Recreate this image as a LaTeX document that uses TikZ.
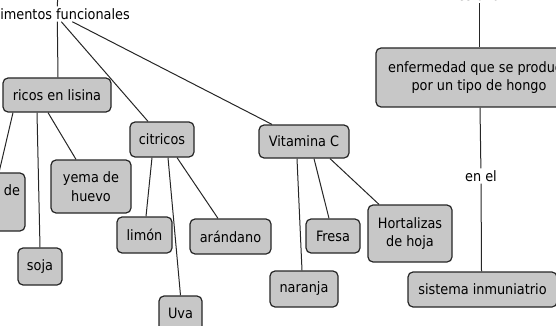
\documentclass[tikz,border=0pt]{standalone}
\usepackage{fontspec}
\setmainfont[FakeStretch=0.9]{DejaVu Sans}
\usepackage{tikz}
\usetikzlibrary{calc}

\tikzset{
  concepto/.style={draw=black!85, line width=1.2pt, fill=black!22, rounded corners=5pt,
                   inner sep=4pt, align=center, font=\fontsize{14.3}{18.5}\selectfont},
  frase/.style={inner sep=2pt, align=center, font=\fontsize{14.3}{18.5}\selectfont},
  enlace/.style={draw=black!85, line width=1pt}
}

\begin{document}
\begin{tikzpicture}[x=1pt,y=-1pt]%,cap=round,>=latex]

                                \useasboundingbox (0,0) rectangle (556,326);
                                \clip (0,0) rectangle (556,326);

                                % frases de enlace
                                \node[frase, anchor=east] (alim) at (132,14) {alimentos funcionales};
                                \node[frase] (esuna) at (479,-3) {es una};
                                \node[frase] (enel) at (481,176) {en el};
                                \coordinate (arriba) at (58,-10);

                                % conceptos
                                \node[concepto, minimum width=108, minimum height=34] (ricos) at (57,95) {ricos en lisina};
                                \node[concepto, minimum width=64, minimum height=35] (citricos) at (162,139.5) {citricos};
                                \node[concepto, minimum width=90, minimum height=33] (vitc) at (304,141.5) {Vitamina C};
                                \node[concepto, minimum width=80, minimum height=58, text width=70, align=right] (leche) at (-15,202) {de\\\strut};
                                \node[concepto, minimum width=80, minimum height=53] (yema) at (91,186.5) {yema de\\huevo};
                                \node[concepto, minimum width=44, minimum height=37] (soja) at (40,266.5) {soja};
                                \node[concepto, minimum width=55, minimum height=36] (limon) at (144.5,235) {limón};
                                \node[concepto, minimum width=81, minimum height=35] (arandano) at (230.5,236.5) {arándano};
                                \node[concepto, minimum width=43, minimum height=35] (uva) at (180.5,313.5) {Uva};
                                \node[concepto, minimum width=54, minimum height=34] (fresa) at (333,236) {Fresa};
                                \node[concepto, minimum width=84, minimum height=57] (hortalizas) at (410,233.5) {Hortalizas\\de hoja};
                                \node[concepto, minimum width=68, minimum height=36] (naranja) at (304,289) {naranja};
                                \node[concepto, minimum width=149, minimum height=35] (sistema) at (482.5,289.5) {sistema inmuniatrio};
                                \node[concepto, minimum width=206, minimum height=59] (enfermedad) at (479,77.5) {enfermedad que se produce\\por un tipo de hongo};

                                % enlaces
                                \draw[enlace] (arriba) -- ([xshift=-2]alim.north);
                                \draw[enlace] ([xshift=-2]alim.south) -- ([xshift=1]ricos.north);
                                \draw[enlace] ([xshift=2]alim.south) -- ([xshift=-14]citricos.north);
                                \draw[enlace] ([xshift=13]alim.south) -- ([xshift=-32]vitc.north);

                                \draw[enlace] ([xshift=-44]ricos.south) -- ([xshift=14]leche.north);
                                \draw[enlace] ([xshift=-20]ricos.south) -- (soja.north);
                                \draw[enlace] ([xshift=-9]ricos.south) -- ([xshift=-15]yema.north);

                                \draw[enlace] ([xshift=-10]citricos.south) -- ([xshift=1.5]limon.north);
                                \draw[enlace] ([xshift=6]citricos.south) -- (uva.north);
                                \draw[enlace] ([xshift=15]citricos.south) -- ([xshift=-12.5]arandano.north);

                                \draw[enlace] ([xshift=-7]vitc.south) -- ([xshift=-2]naranja.north);
                                \draw[enlace] ([xshift=10]vitc.south) -- ([xshift=-4]fresa.north);
                                \draw[enlace] ([xshift=26]vitc.south) -- ([xshift=-31]hortalizas.north);

                                \draw[enlace] (esuna) -- (enfermedad);
                                \draw[enlace] ([xshift=1]enfermedad.south) -- (enel) -- ([xshift=-1]sistema.north);
                            \end{tikzpicture}
\end{document}
